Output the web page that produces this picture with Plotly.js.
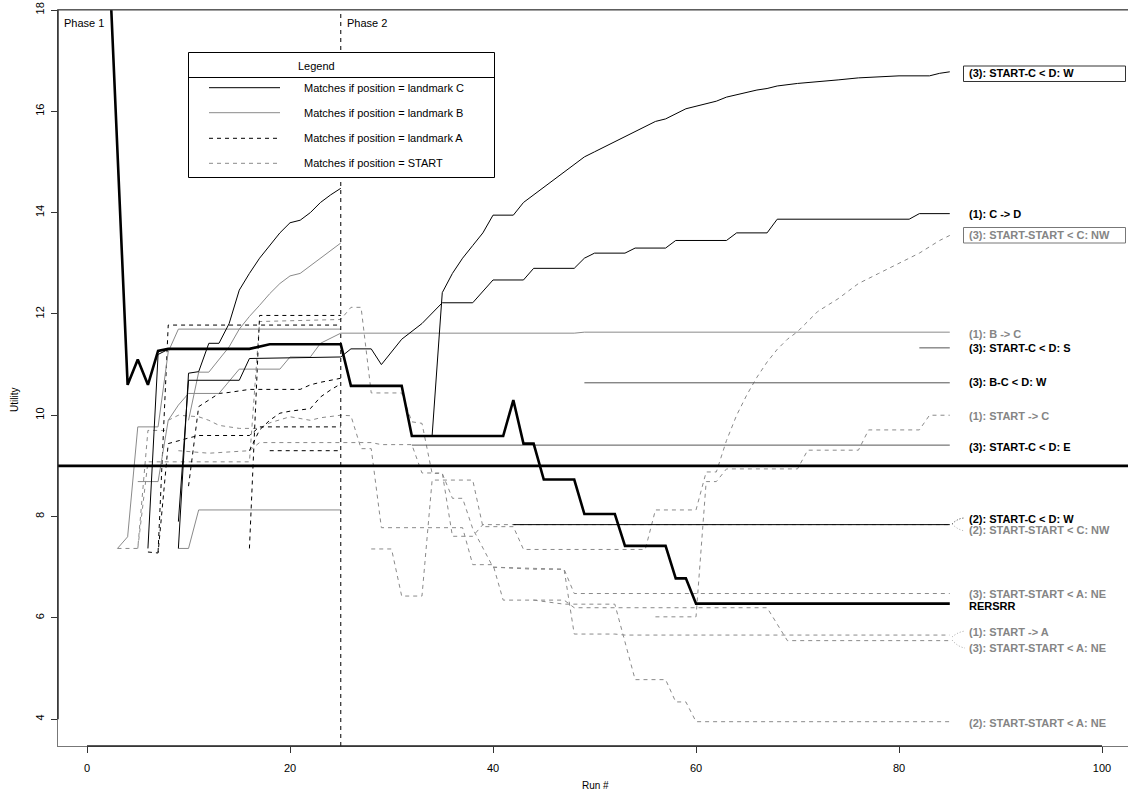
<!DOCTYPE html>
<html><head><meta charset="utf-8">
<script src="https://cdn.plot.ly/plotly-3.0.1.min.js"></script>
<style>html,body{margin:0;padding:0;background:#fff;overflow:hidden}#chart{width:1140px;height:801px}</style>
</head><body><div id="chart"></div>
<script>
// ---------------- data (run #, utility) ----------------
const phaseBoundary = 25;
const thresholdUtility = 9;
const xTicks = [0, 20, 40, 60, 80, 100];
const yTicks = [4, 6, 8, 10, 12, 14, 16, 18];

// thick black
const rersrrX = [2,3,4,5,6,7,8,16,18,25,26,31,32,41,42,43,44,45,48,49,52,53,57,58,59,60,85];
const rersrrY = [19.8,15.2,10.6,11.1,10.6,11.27,11.31,11.31,11.4,11.4,10.58,10.58,9.59,9.59,10.3,9.44,9.44,8.73,8.73,8.05,8.05,7.42,7.42,6.78,6.78,6.28,6.28];

// black solid (landmark C)
const cCDX = [9,10,15,16,25,26,28,29,31,33,35,38,40,43,44,48,49,50,53,54,57,58,63,64,67,68,81,82,85];
const cCDY = [7.9,10.69,10.69,11.12,11.15,11.31,11.31,11.0,11.5,11.81,12.22,12.22,12.67,12.67,12.9,12.9,13.1,13.2,13.2,13.3,13.3,13.45,13.45,13.6,13.6,13.87,13.87,13.98,13.98];
const cSCWX = [34,35,36,37,38,39,40,42,43,44,45,46,47,48,49,50,51,52,53,54,55,56,57,58,59,60,61,62,63,64,65,66,67,68,70,72,74,76,78,80,83,84,85];
const cSCWY = [9.6,12.42,12.8,13.1,13.35,13.6,13.95,13.95,14.2,14.35,14.5,14.65,14.8,14.95,15.1,15.2,15.3,15.4,15.5,15.6,15.7,15.8,15.85,15.95,16.05,16.1,16.15,16.2,16.28,16.33,16.38,16.42,16.45,16.5,16.55,16.58,16.62,16.66,16.68,16.7,16.7,16.75,16.78];
const cP1X = [9,10,11,12,13,14,15,16,17,18,19,20,21,22,23,24,25];
const cP1Y = [7.37,10.83,10.86,11.42,11.42,11.81,12.47,12.8,13.1,13.35,13.6,13.8,13.85,14.0,14.2,14.35,14.48];
const cP1bX = [6,7,8];
const cP1bY = [7.37,11.2,11.3];
const c2SCWX = [42,85];
const c2SCWY = [7.84,7.84];
const cSCSX = [82,85];
const cSCSY = [11.33,11.33];
const cSCEX = [32,85];
const cSCEY = [9.41,9.41];
const cBCWX = [49,85];
const cBCWY = [10.64,10.64];

// gray solid (landmark B)
const bBCX = [5,7,8,9,10,13,15,19,20,22,23,25,48,49,85];
const bBCY = [8.69,8.69,9.9,10.2,10.43,10.43,10.91,10.91,11.15,11.15,11.42,11.62,11.62,11.64,11.64];
const bP1aX = [10,11,12,13,14,15,16,17,18,19,20,21,22,23,24,25];
const bP1aY = [9.9,10.85,10.85,11.1,11.35,11.7,11.95,12.17,12.4,12.6,12.75,12.8,12.95,13.1,13.25,13.4];
const bP1bX = [3,4,5,7,8,9,25];
const bP1bY = [7.37,7.6,9.77,9.77,11.25,11.7,11.7];
const bP1cX = [9,10,11,25];
const bP1cY = [7.37,7.37,8.13,8.13];

// black dashed (landmark A)
const aP1aX = [16,17,25];
const aP1aY = [7.37,11.97,11.97];
const aP1bX = [7,8,25];
const aP1bY = [7.3,11.78,11.78];
const aP1cX = [6,7,8,9,10,11,16,17,25];
const aP1cY = [7.3,7.28,9.44,9.5,9.55,9.6,9.6,9.77,9.77];
const aP1dX = [10,11,12,13,14,16,21,22,23,25];
const aP1dY = [8.6,10.17,10.3,10.43,10.45,10.51,10.51,10.6,10.65,10.73];
const aP1eX = [16,17,18,19,20,22,23,24,25];
const aP1eY = [9.3,9.71,9.9,10.04,10.08,10.13,10.36,10.5,10.62];
const aP1fX = [18,25];
const aP1fY = [9.3,9.3];

// gray dashed (START)
const sAX = [8,9,11,12,13,15,17,18,20,22,23,25,26,27,28,29,37,38,40,41,47,48,67,69,85];
const sAY = [9.9,10.0,9.97,9.9,9.8,9.74,9.74,9.85,9.97,9.9,9.95,10.0,9.99,9.34,9.34,7.78,7.78,7.05,7.05,6.35,6.35,6.2,6.2,5.55,5.55];
const sBX = [9,12,16,17,25,28,29,32,33,35,36,38,39,85];
const sBY = [9.3,9.25,9.3,9.46,9.46,9.46,9.42,9.42,8.86,8.86,7.61,7.61,7.84,7.84];
const sCX = [5,6,16,17,25,26,27,28,31,32,33,34,35,36,37,38,40,47,48,85];
const sCY = [7.37,9.08,9.08,11.85,11.89,12.13,12.13,10.44,10.44,9.87,9.84,8.85,8.85,8.36,8.36,7.76,7.0,6.96,6.48,6.48];
const sDX = [28,30,31,33,34,38,39,42,43,55,56,60,61,62,63,64,65,66,67,68,69,70,71,72,74,76,78,80,82,84,85];
const sDY = [7.36,7.36,6.43,6.43,8.72,8.72,7.8,7.8,7.35,7.35,8.13,8.13,8.88,8.88,9.5,10.0,10.4,10.75,11.05,11.3,11.5,11.65,11.85,12.05,12.3,12.6,12.8,13.0,13.2,13.45,13.55];
const sEX = [40,44,47,48,52,53,85];
const sEY = [7.0,6.96,6.96,5.68,5.68,5.66,5.66];
const sFX = [44,47,52,54,57,58,59,60,85];
const sFY = [6.35,6.27,6.27,4.78,4.78,4.34,4.34,3.95,3.95];
const sGX = [56,60,61,62,63,70,71,76,77,82,83,85];
const sGY = [6.02,6.02,8.69,8.69,8.94,8.94,9.31,9.31,9.71,9.71,10.0,10.0];
const sHX = [3,5,6,8];
const sHY = [7.37,7.37,9.7,9.7];

// legend and end labels
const legendTitle = 'Legend';
const legendLabels = ['Matches if position = landmark C','Matches if position = landmark B','Matches if position = landmark A','Matches if position = START'];
const endLabels = ['(3): START-C < D: W','(1): C -> D','(3): START-START < C: NW','(1): B -> C','(3): START-C < D: S','(3): B-C < D: W','(1): START -> C','(3): START-C < D: E','(2): START-C < D: W','(2): START-START < C: NW','(3): START-START < A: NE','RERSRR','(1): START -> A','(3): START-START < A: NE','(2): START-START < A: NE'];
const endLabelY = [16.75,13.97,13.56,11.60,11.32,10.65,9.98,9.38,7.96,7.73,6.48,6.23,5.72,5.40,3.93];
const endLabelGray = [false,false,true,true,false,false,true,false,false,true,true,false,true,true,true];

// ---------------- styles ----------------
const GRAY = '#8a8a8a';
const DASH = '4px,4px';
const styles = {
  C: {color:'#000', width:1, dash:'solid'},
  CD: {color:'#555', width:1, dash:'solid'},
  B: {color:GRAY, width:1, dash:'solid'},
  A: {color:'#000', width:1, dash:DASH},
  S: {color:GRAY, width:1, dash:DASH},
  R: {color:'#000', width:2.6, dash:'solid'}
};
const series = [
  [sAX,sAY,'S'],[sBX,sBY,'S'],[sCX,sCY,'S'],[sDX,sDY,'S'],[sEX,sEY,'S'],[sFX,sFY,'S'],[sGX,sGY,'S'],[sHX,sHY,'S'],
  [aP1aX,aP1aY,'A'],[aP1bX,aP1bY,'A'],[aP1cX,aP1cY,'A'],[aP1dX,aP1dY,'A'],[aP1eX,aP1eY,'A'],[aP1fX,aP1fY,'A'],
  [bBCX,bBCY,'B'],[bP1aX,bP1aY,'B'],[bP1bX,bP1bY,'B'],[bP1cX,bP1cY,'B'],
  [cSCSX,cSCSY,'CD'],[cSCEX,cSCEY,'CD'],[cBCWX,cBCWY,'CD'],
  [cCDX,cCDY,'C'],[cSCWX,cSCWY,'C'],[cP1X,cP1Y,'C'],[cP1bX,cP1bY,'C'],[c2SCWX,c2SCWY,'C'],
  [rersrrX,rersrrY,'R']
];
const traces = series.map(s => ({
  x: s[0], y: s[1], type:'scatter', mode:'lines', showlegend:false, hoverinfo:'skip',
  line: Object.assign({shape:'linear'}, styles[s[2]])
}));

// ---------------- layout helpers ----------------
// figure is a little wider than the window so that the plot box's right edge falls outside the picture
const W = 1140, H = 801, ML = 58, MT = 10, MB = 55, MR = 0;
const PW = W - ML - MR, PH = H - MT - MB;
const px = v => (v - ML) / PW;           // pixel -> paper x
const py = v => (H - MB - v) / PH;       // pixel -> paper y
const FONT = 'Liberation Sans, Arial, sans-serif';
const xMax = -2.86 + PW / 10.15;

const shapes = [
  {type:'line', xref:'paper', x0:0, x1:1, yref:'y', y0:thresholdUtility, y1:thresholdUtility, line:{color:'#000', width:2.6}},
  {type:'line', xref:'x', x0:phaseBoundary, x1:phaseBoundary, yref:'paper', y0:0, y1:1, line:{color:'#000', width:1, dash:DASH}},
  // darker axis segments between first and last tick, darker top frame
  {type:'line', xref:'paper', x0:0, x1:0, yref:'y', y0:yTicks[0], y1:yTicks[yTicks.length-1], line:{color:'#222', width:1.4}},
  {type:'line', xref:'x', x0:xTicks[0], x1:xTicks[xTicks.length-1], yref:'paper', y0:0, y1:0, line:{color:'#222', width:1.4}},
  {type:'line', xref:'paper', x0:0, x1:1, yref:'paper', y0:1, y1:1, line:{color:'#444', width:1.2}},
  // legend box
  {type:'rect', xref:'paper', yref:'paper', x0:px(188.5), x1:px(494.5), y0:py(177.5), y1:py(52.5), line:{color:'#000', width:1}, fillcolor:'#fff', layer:'above'},
  {type:'line', xref:'paper', yref:'paper', x0:px(188.5), x1:px(494.5), y0:py(77.5), y1:py(77.5), line:{color:'#000', width:1}}
];
const legendStyles = ['C','B','A','S'];
const legendRowsPy = [87.7,112.7,138.3,163.3];
const annotations = [];
legendStyles.forEach((k,i) => {
  shapes.push({type:'line', xref:'paper', yref:'paper', x0:px(209), x1:px(280), y0:py(legendRowsPy[i]), y1:py(legendRowsPy[i]), line:{color:styles[k].color, width:1, dash:styles[k].dash}});
  annotations.push({xref:'paper', yref:'paper', x:px(302), y:py(legendRowsPy[i]), xanchor:'left', yanchor:'middle', showarrow:false, text:legendLabels[i], font:{family:FONT, size:11, color:'#000'}});
});
annotations.push({xref:'paper', yref:'paper', x:px(316), y:py(66), xanchor:'center', yanchor:'middle', showarrow:false, text:legendTitle, font:{family:FONT, size:11, color:'#000'}});
// phase labels
annotations.push({xref:'paper', yref:'paper', x:px(62), y:py(22.5), xanchor:'left', yanchor:'middle', showarrow:false, text:'Phase 1', font:{family:FONT, size:11, color:'#000'}});
annotations.push({xref:'x', yref:'paper', x:phaseBoundary, xshift:4, y:py(22.5), xanchor:'left', yanchor:'middle', showarrow:false, text:'Phase 2', font:{family:FONT, size:11, color:'#000'}});
// axis titles
annotations.push({xref:'paper', yref:'paper', x:px(595), y:py(785), xanchor:'center', yanchor:'middle', showarrow:false, text:'Run #', font:{family:FONT, size:10, color:'#000'}});
annotations.push({xref:'paper', yref:'paper', x:px(14), y:py(400), xanchor:'center', yanchor:'middle', showarrow:false, textangle:-90, text:'Utility', font:{family:FONT, size:10, color:'#000'}});
// end labels
const esc = s => s.replace(/&/g,'&amp;').replace(/</g,'&lt;').replace(/>/g,'&gt;');
endLabels.forEach((t,i) => {
  annotations.push({xref:'paper', yref:'y', x:px(967), y:endLabelY[i], xanchor:'left', yanchor:'middle', showarrow:false,
    text:'<b>'+esc(t)+'</b>', font:{family:FONT, size:11, color:endLabelGray[i] ? '#858585' : '#000'}});
});
// label boxes
shapes.push({type:'rect', xref:'paper', yref:'paper', x0:px(963.5), x1:px(1125.5), y0:py(81.5), y1:py(66), line:{color:'#333', width:1}});
shapes.push({type:'rect', xref:'paper', yref:'paper', x0:px(963.5), x1:px(1125.5), y0:py(243), y1:py(227.5), line:{color:'#777', width:1}});
// leader lines for crowded labels
shapes.push({type:'path', xref:'paper', yref:'paper', path:`M ${px(952)} ${py(524)} Q ${px(958)} ${py(518)} ${px(965)} ${py(518)}`, line:{color:'#000', width:0.8, dash:'1px,2px'}});
shapes.push({type:'path', xref:'paper', yref:'paper', path:`M ${px(952)} ${py(524)} Q ${px(958)} ${py(530)} ${px(965)} ${py(531)}`, line:{color:GRAY, width:0.8, dash:'1px,2px'}});
shapes.push({type:'path', xref:'paper', yref:'paper', path:`M ${px(952)} ${py(637)} Q ${px(958)} ${py(632)} ${px(965)} ${py(631)}`, line:{color:GRAY, width:0.8, dash:'1px,2px'}});
shapes.push({type:'path', xref:'paper', yref:'paper', path:`M ${px(952)} ${py(640)} Q ${px(958)} ${py(647)} ${px(965)} ${py(648)}`, line:{color:GRAY, width:0.8, dash:'1px,2px'}});

const layout = {
  width: W, height: H,
  margin: {l:ML, r:MR, t:MT, b:MB, pad:0},
  paper_bgcolor:'#fff', plot_bgcolor:'#fff',
  showlegend:false,
  font:{family:FONT, size:11, color:'#000'},
  xaxis: {range:[-2.86, xMax], tickvals:xTicks, ticktext:xTicks.map(String), ticks:'outside', ticklen:6, tickcolor:'#333',
    showgrid:false, zeroline:false, showline:true, mirror:true, linecolor:'#777', linewidth:1,
    tickfont:{family:FONT, size:11, color:'#000'}, ticklabelstandoff:6},
  yaxis: {range:[3.47, 18], tickvals:yTicks, ticktext:yTicks.map(String), ticks:'outside', ticklen:6, tickcolor:'#333', tickangle:-90,
    showgrid:false, zeroline:false, showline:true, mirror:false, linecolor:'#777', linewidth:1,
    tickfont:{family:FONT, size:11, color:'#000'}, ticklabelstandoff:3},
  shapes: shapes,
  annotations: annotations
};
Plotly.newPlot('chart', traces, layout, {displayModeBar:false, staticPlot:true});
</script></body></html>
